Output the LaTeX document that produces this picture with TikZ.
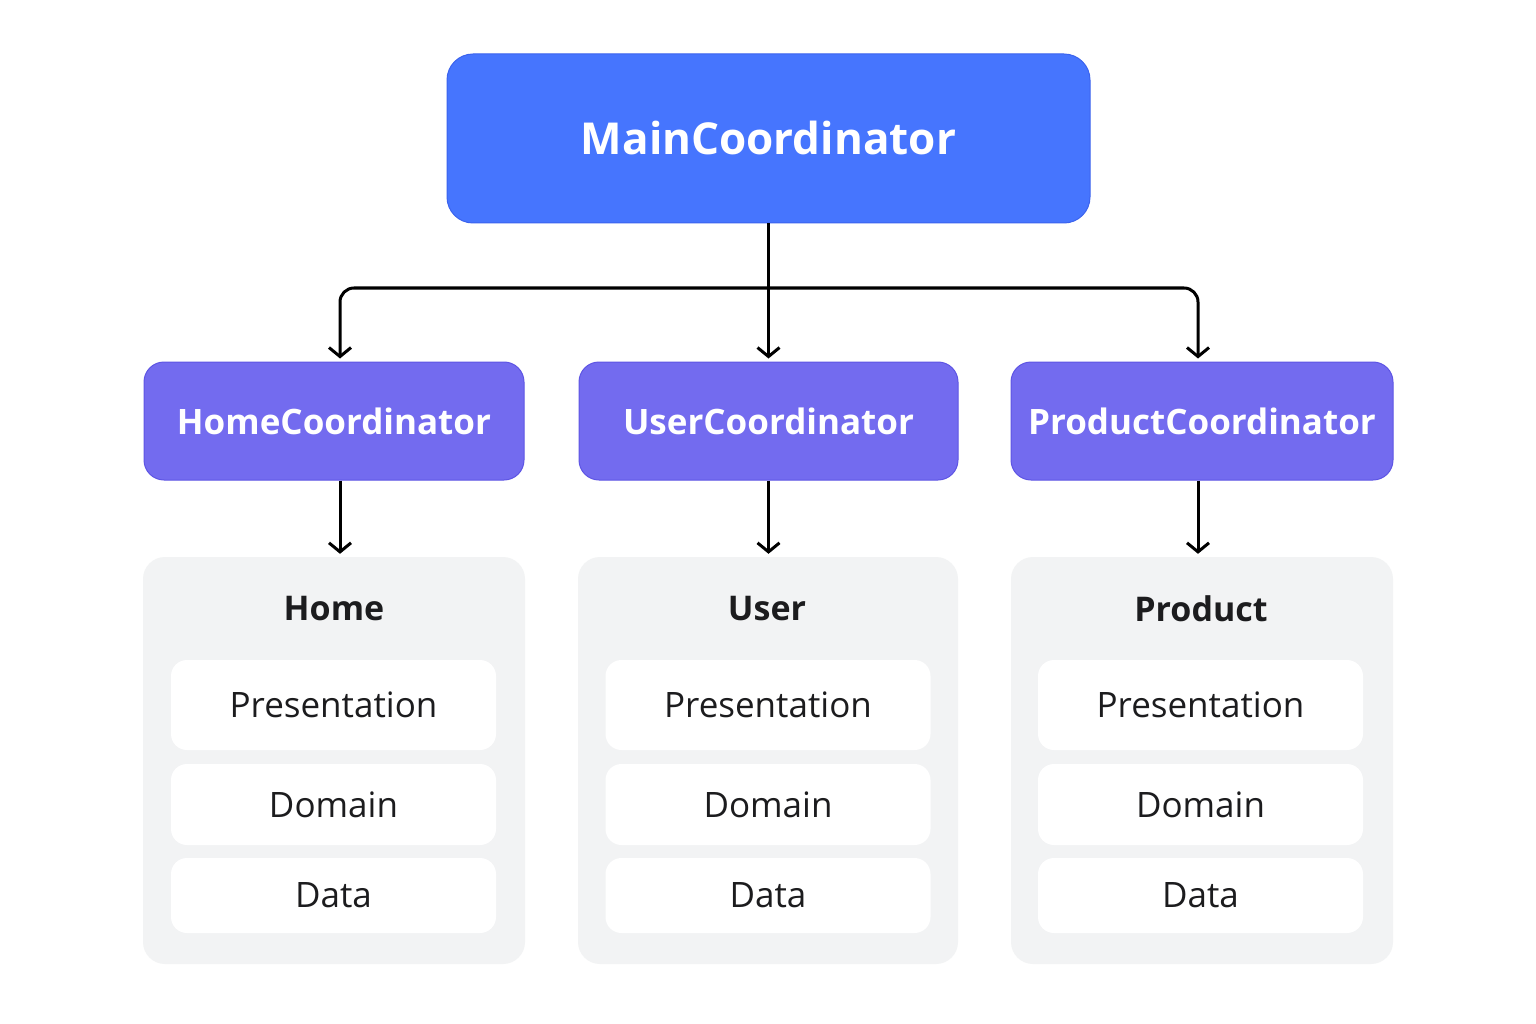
\documentclass[tikz,border=0pt]{standalone}
\usepackage{fontspec}
\setmainfont{Open Sans}
\usetikzlibrary{arrows.meta}
\definecolor{mainfill}{HTML}{4675FE}
\definecolor{maindraw}{HTML}{3B63EE}
\definecolor{midfill}{HTML}{736BEF}
\definecolor{middraw}{HTML}{5E55E4}
\definecolor{panelfill}{HTML}{F2F3F4}
\definecolor{txtdark}{HTML}{1C1C1E}
\tikzset{
  x=1pt, y=-1pt,
  mainbox/.style={rectangle, rounded corners=26pt, fill=mainfill, draw=maindraw, line width=1pt,
    minimum width=643pt, minimum height=169pt, inner sep=0pt, text=white,
    font=\fontsize{44}{53}\selectfont\bfseries},
  midbox/.style={rectangle, rounded corners=20pt, fill=midfill, draw=middraw, line width=1pt,
    minimum height=118pt, inner sep=0pt, text=white,
    font=\fontsize{35}{42}\selectfont\bfseries},
  panel/.style={rectangle, rounded corners=22pt, fill=panelfill,
    minimum height=407pt, inner sep=0pt},
  paneltitle/.style={text=txtdark, font=\fontsize{34}{41}\selectfont\bfseries, inner sep=0pt},
  layerbox/.style={rectangle, rounded corners=16pt, fill=white,
    minimum width=325pt, inner sep=0pt, text=txtdark,
    font=\fontsize{35}{42}\selectfont},
  arr/.style={draw=black, line width=3pt, -{Straight Barb[length=9pt,width=22pt,line width=3pt]}, shorten >=3pt},
}
\begin{document}
\begin{tikzpicture}
\useasboundingbox (0,0) rectangle (1536,1024);
\fill[white] (0,0) rectangle (1536,1024);

\node[mainbox] (main) at (768.5,138.5) {MainCoordinator};

\node[midbox, minimum width=380pt] (homec) at (334,421) {HomeCoordinator};
\node[midbox, minimum width=379pt] (userc) at (768.5,421) {UserCoordinator};
\node[midbox, minimum width=382pt] (prodc) at (1202,421) {ProductCoordinator};

\node[panel, minimum width=382pt] (homep) at (334,760.5) {};
\node[panel, minimum width=380pt] (userp) at (768,760.5) {};
\node[panel, minimum width=382pt] (prodp) at (1202,760.5) {};

\node[paneltitle] (homet) at (334,609) {Home};
\node[paneltitle] (usert) at (767,609) {User};
\node[paneltitle] (prodt) at (1201,609) {Product};

\foreach \n/\cx in {home/333.5, user/768, prod/1200.5}{
  \node[layerbox, minimum height=90pt] (\n pres) at (\cx,705) {Presentation};
  \node[layerbox, minimum height=81pt] (\n dom) at (\cx,804.5) {Domain};
  \node[layerbox, minimum height=75pt] (\n data) at (\cx,895.5) {Data};
}

\coordinate (split) at (768,288);
\draw[arr] (main.south) -- (userc.north);
\draw[arr, rounded corners=14pt] (split) -| ([xshift=6pt]homec.north);
\draw[arr, rounded corners=14pt] (split) -| ([xshift=-4pt]prodc.north);

\draw[arr] ([xshift=6pt]homec.south) -- ([xshift=6pt]homep.north);
\draw[arr] (userc.south) -- ([xshift=0.5pt]userp.north);
\draw[arr] ([xshift=-4pt]prodc.south) -- ([xshift=-4pt]prodp.north);
\end{tikzpicture}
\end{document}
